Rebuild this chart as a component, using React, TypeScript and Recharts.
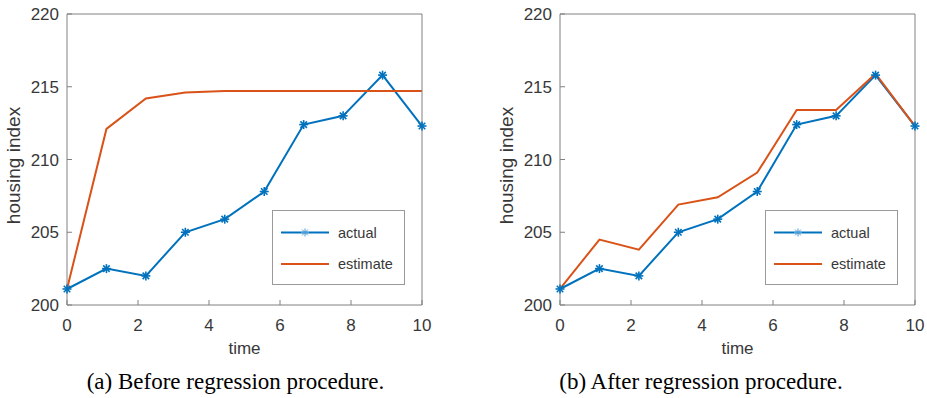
import React from 'react';
import { LineChart, Line, XAxis, YAxis, Legend } from 'recharts';

const TIME = [0, 1.111, 2.222, 3.333, 4.444, 5.556, 6.667, 7.778, 8.889, 10];
const ACTUAL = [201.1, 202.5, 202.0, 205.0, 205.9, 207.8, 212.4, 213.0, 215.8, 212.3];
const ESTIMATE_BEFORE = [201.1, 212.1, 214.2, 214.6, 214.7, 214.7, 214.7, 214.7, 214.7, 214.7];
const ESTIMATE_AFTER = [201.1, 204.5, 203.8, 206.9, 207.4, 209.1, 213.4, 213.4, 215.9, 212.3];
const X_TICKS = [0, 2, 4, 6, 8, 10];
const Y_TICKS = [200, 205, 210, 215, 220];
const SERIES_NAMES = ['actual', 'estimate'];
const CAPTIONS = ['(a) Before regression procedure.', '(b) After regression procedure.'];

const BLUE = '#0072BD';
const ORANGE = '#D95319';
const AXIS = '#808080';
const TEXT = '#383838';
const SANS = '"Liberation Sans", Arial, Helvetica, sans-serif';

// MATLAB style '*' marker
function Asterisk({ cx, cy, r = 4.5, color = BLUE, width = 1.6 }: any) {
  if (cx == null || cy == null) return null;
  const d = r * 0.72;
  return (
    <g stroke={color} strokeWidth={width}>
      <line x1={cx - r} y1={cy} x2={cx + r} y2={cy} />
      <line x1={cx} y1={cy - r} x2={cx} y2={cy + r} />
      <line x1={cx - d} y1={cy - d} x2={cx + d} y2={cy + d} />
      <line x1={cx - d} y1={cy + d} x2={cx + d} y2={cy - d} />
    </g>
  );
}

function XTitle({ viewBox }: any) {
  if (!viewBox) return null;
  return (
    <text
      x={viewBox.x + viewBox.width / 2}
      y={viewBox.y + 43}
      textAnchor="middle"
      dominantBaseline="central"
      fill={TEXT}
      fontSize={17}
      fontFamily={SANS}
    >
      time
    </text>
  );
}

function YTitle({ viewBox }: any) {
  if (!viewBox) return null;
  const x = viewBox.x + 13;
  const y = viewBox.y + viewBox.height / 2 + 6;
  return (
    <text
      x={x}
      y={y}
      transform={`rotate(-90 ${x} ${y})`}
      textAnchor="middle"
      dominantBaseline="central"
      fill={TEXT}
      fontSize={19}
      fontFamily={SANS}
    >
      housing index
    </text>
  );
}

function LegendBox() {
  return (
    <svg width={133} height={75} style={{ display: 'block' }}>
      <rect x={0.5} y={0.5} width={132} height={74} fill="#fff" stroke="#9a9a9a" />
      <line x1={9} y1={22.5} x2={57} y2={22.5} stroke={BLUE} strokeWidth={2} />
      <Asterisk cx={33} cy={22.5} r={4} color="#4a9ad6" width={1} />
      <text x={66} y={22.5} dominantBaseline="central" fontSize={14.5} fill={TEXT} fontFamily={SANS}>
        {SERIES_NAMES[0]}
      </text>
      <line x1={9} y1={54} x2={57} y2={54} stroke={ORANGE} strokeWidth={2} />
      <text x={66} y={54} dominantBaseline="central" fontSize={14.5} fill={TEXT} fontFamily={SANS}>
        {SERIES_NAMES[1]}
      </text>
    </svg>
  );
}

function Panel({ estimate, left }: { estimate: number[]; left: number }) {
  const data = TIME.map((t, i) => ({ t, actual: ACTUAL[i], estimate: estimate[i] }));
  const tickStyle = { fill: TEXT, fontSize: 17, fontFamily: SANS };

  return (
    <div style={{ position: 'absolute', left, top: 0 }}>
      <LineChart width={460} height={365} data={data} margin={{ top: 13, right: 37, left: 0, bottom: 0 }}>
        <XAxis
          dataKey="t"
          type="number"
          domain={[0, 10]}
          ticks={X_TICKS}
          height={60}
          tickSize={-5}
          tickMargin={19}
          tick={tickStyle}
          stroke={AXIS}
          label={<XTitle />}
        />
        <XAxis
          xAxisId="top"
          orientation="top"
          dataKey="t"
          type="number"
          domain={[0, 10]}
          ticks={X_TICKS}
          height={1}
          tickSize={-5}
          tick={false}
          stroke={AXIS}
        />
        <YAxis
          type="number"
          domain={[200, 220]}
          ticks={Y_TICKS}
          width={67}
          tickSize={-5}
          tickMargin={13}
          tick={tickStyle}
          stroke={AXIS}
          label={<YTitle />}
        />
        <YAxis
          yAxisId="right"
          orientation="right"
          type="number"
          domain={[200, 220]}
          ticks={Y_TICKS}
          width={1}
          tickSize={-5}
          tick={false}
          stroke={AXIS}
        />
        <Line
          dataKey="actual"
          name={SERIES_NAMES[0]}
          stroke={BLUE}
          strokeWidth={2}
          dot={(p: any) => <Asterisk key={`a-${p.index}`} cx={p.cx} cy={p.cy} />}
          activeDot={false}
          isAnimationActive={false}
        />
        <Line
          dataKey="estimate"
          name={SERIES_NAMES[1]}
          stroke={ORANGE}
          strokeWidth={2}
          dot={false}
          activeDot={false}
          isAnimationActive={false}
        />
        <Legend
          layout="horizontal"
          verticalAlign="middle"
          align="center"
          content={() => <LegendBox />}
          wrapperStyle={{ left: 272, top: 210, width: 133, height: 75 }}
        />
      </LineChart>
    </div>
  );
}

export default function App() {
  const captionStyle: React.CSSProperties = {
    position: 'absolute',
    top: 370,
    width: 460,
    textAlign: 'center',
    fontFamily: '"Liberation Serif", "Times New Roman", serif',
    fontSize: 23,
    lineHeight: '23px',
    color: '#000',
    whiteSpace: 'nowrap',
  };

  return (
    <div style={{ position: 'absolute', left: 0, top: 0, width: 927, height: 398, background: '#fff', overflow: 'hidden' }}>
      <Panel estimate={ESTIMATE_BEFORE} left={0} />
      <Panel estimate={ESTIMATE_AFTER} left={493} />
      <div style={{ ...captionStyle, left: 5.5 }}>{CAPTIONS[0]}</div>
      <div style={{ ...captionStyle, left: 471 }}>{CAPTIONS[1]}</div>
    </div>
  );
}
